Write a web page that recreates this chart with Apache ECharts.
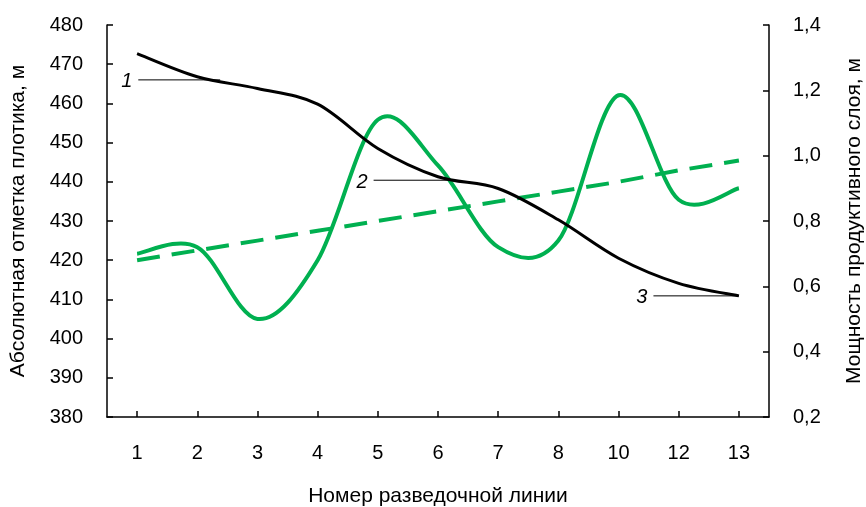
<!DOCTYPE html>
<html>
<head>
<meta charset="utf-8">
<script src="https://cdn.jsdelivr.net/npm/echarts@6/dist/echarts.min.js"></script>
<style>
  html, body { margin: 0; padding: 0; background: #fff; }
  #chart { width: 866px; height: 507px; }
</style>
</head>
<body>
<div id="chart"></div>
<script>
// номера разведочных линий
const categories = ['1', '2', '3', '4', '5', '6', '7', '8', '10', '12', '13'];
// абсолютная отметка плотика, м (левая ось)
const elevation = [472.7, 466.8, 463.8, 459.8, 448.5, 441.3, 438.3, 430.3, 420.5, 414.1, 410.9];
// мощность продуктивного слоя, м (правая ось)
const thickness = [0.70, 0.72, 0.50, 0.68, 1.11, 0.97, 0.72, 0.74, 1.185, 0.865, 0.90];
// линейный тренд мощности
const thicknessTrend = [0.68, 0.71, 0.74, 0.77, 0.80, 0.83, 0.86, 0.89, 0.92, 0.955, 0.985];

// подписи кривых 1, 2, 3 с выносками (в долях шага категории)
const curveNotes = [
  { text: '1', value: 466.0, from: 0.02, to: 1.38 },
  { text: '2', value: 440.4, from: 3.93, to: 5.27 },
  { text: '3', value: 410.9, from: 8.58, to: 10.0 }
];

const FONT = '"Liberation Sans", Arial, sans-serif';
const GREEN = '#00b050';

const chart = echarts.init(document.getElementById('chart'));

// сглаженная кривая как в Excel (Catmull-Rom -> Безье), точки берутся через api.coord
function smoothCurve(values, color, width) {
  return function (params, api) {
    if (params.dataIndex !== 0) return null;
    const pts = values.map((v, i) => api.coord([i, v]));
    let d = 'M' + pts[0][0] + ' ' + pts[0][1];
    for (let i = 0; i < pts.length - 1; i++) {
      const p0 = pts[i - 1] || pts[i];
      const p1 = pts[i];
      const p2 = pts[i + 1];
      const p3 = pts[i + 2] || pts[i + 1];
      const c1x = p1[0] + (p2[0] - p0[0]) / 6;
      const c1y = p1[1] + (p2[1] - p0[1]) / 6;
      const c2x = p2[0] - (p3[0] - p1[0]) / 6;
      const c2y = p2[1] - (p3[1] - p1[1]) / 6;
      d += ' C' + c1x + ' ' + c1y + ' ' + c2x + ' ' + c2y + ' ' + p2[0] + ' ' + p2[1];
    }
    return {
      type: 'path',
      shape: { pathData: d },
      style: { fill: 'none', stroke: color, lineWidth: width, lineJoin: 'round' }
    };
  };
}

const axisLine = { show: true, lineStyle: { color: '#000', width: 1.5 } };
const axisTick = { show: true, inside: true, length: 6, lineStyle: { color: '#000', width: 1.5 } };

const option = {
  animation: false,
  backgroundColor: '#fff',
  grid: { left: 107, right: 97, top: 25, bottom: 90, outerBoundsMode: 'none', containLabel: false },
  xAxis: {
    type: 'category',
    data: categories,
    boundaryGap: true,
    name: 'Номер разведочной линии',
    nameLocation: 'middle',
    nameGap: 69,
    nameTextStyle: { color: '#000', fontSize: 21, fontFamily: FONT },
    axisLine: axisLine,
    axisTick: Object.assign({}, axisTick, { alignWithLabel: true }),
    axisLabel: { color: '#000', fontSize: 20, fontFamily: FONT, margin: 26 },
    splitLine: { show: false }
  },
  yAxis: [
    {
      type: 'value',
      min: 380,
      max: 480,
      interval: 10,
      name: 'Абсолютная отметка плотика, м',
      nameLocation: 'middle',
      nameRotate: 90,
      nameGap: 78,
      nameTextStyle: { color: '#000', fontSize: 21, fontFamily: FONT },
      axisLine: axisLine,
      axisTick: axisTick,
      axisLabel: { color: '#000', fontSize: 20, fontFamily: FONT, margin: 24 },
      splitLine: { show: false }
    },
    {
      type: 'value',
      position: 'right',
      min: 0.2,
      max: 1.4,
      interval: 0.2,
      name: 'Мощность продуктивного слоя, м',
      nameLocation: 'middle',
      nameRotate: 90,
      nameGap: 75,
      nameTextStyle: { color: '#000', fontSize: 21, fontFamily: FONT },
      axisLine: axisLine,
      axisTick: axisTick,
      axisLabel: {
        color: '#000', fontSize: 20, fontFamily: FONT, margin: 24,
        formatter: v => v.toFixed(1).replace('.', ',')
      },
      splitLine: { show: false }
    }
  ],
  series: [
    {
      name: 'Абсолютная отметка плотика',
      type: 'custom',
      yAxisIndex: 0,
      data: elevation.map((v, i) => [i, v]),
      encode: { x: 0, y: 1 },
      renderItem: smoothCurve(elevation, '#000', 3),
      silent: true,
      z: 3
    },
    {
      name: 'Мощность продуктивного слоя',
      type: 'custom',
      yAxisIndex: 1,
      data: thickness.map((v, i) => [i, v]),
      encode: { x: 0, y: 1 },
      renderItem: smoothCurve(thickness, GREEN, 4),
      silent: true,
      z: 2
    },
    {
      name: 'Тренд мощности',
      type: 'line',
      yAxisIndex: 1,
      data: thicknessTrend,
      symbol: 'none',
      lineStyle: { color: GREEN, width: 4, type: [23, 12] },
      silent: true,
      z: 2
    }
  ]
};

chart.setOption(option);

// выноски с номерами кривых
const x0 = chart.convertToPixel({ xAxisIndex: 0 }, categories[0]);
const step = chart.convertToPixel({ xAxisIndex: 0 }, categories[1]) - x0;
const graphics = [];
curveNotes.forEach(n => {
  const y = chart.convertToPixel({ yAxisIndex: 0 }, n.value);
  const xa = x0 + n.from * step;
  const xb = x0 + n.to * step;
  graphics.push({
    type: 'line',
    shape: { x1: xa, y1: y, x2: xb, y2: y },
    style: { stroke: '#000', lineWidth: 1 },
    z: 10
  });
  graphics.push({
    type: 'text',
    x: xa - 6,
    y: y + 2,
    style: {
      text: n.text,
      font: 'italic 20px ' + FONT,
      fill: '#000',
      align: 'right',
      verticalAlign: 'middle'
    },
    z: 10
  });
});
chart.setOption({ graphic: graphics });
</script>
</body>
</html>
